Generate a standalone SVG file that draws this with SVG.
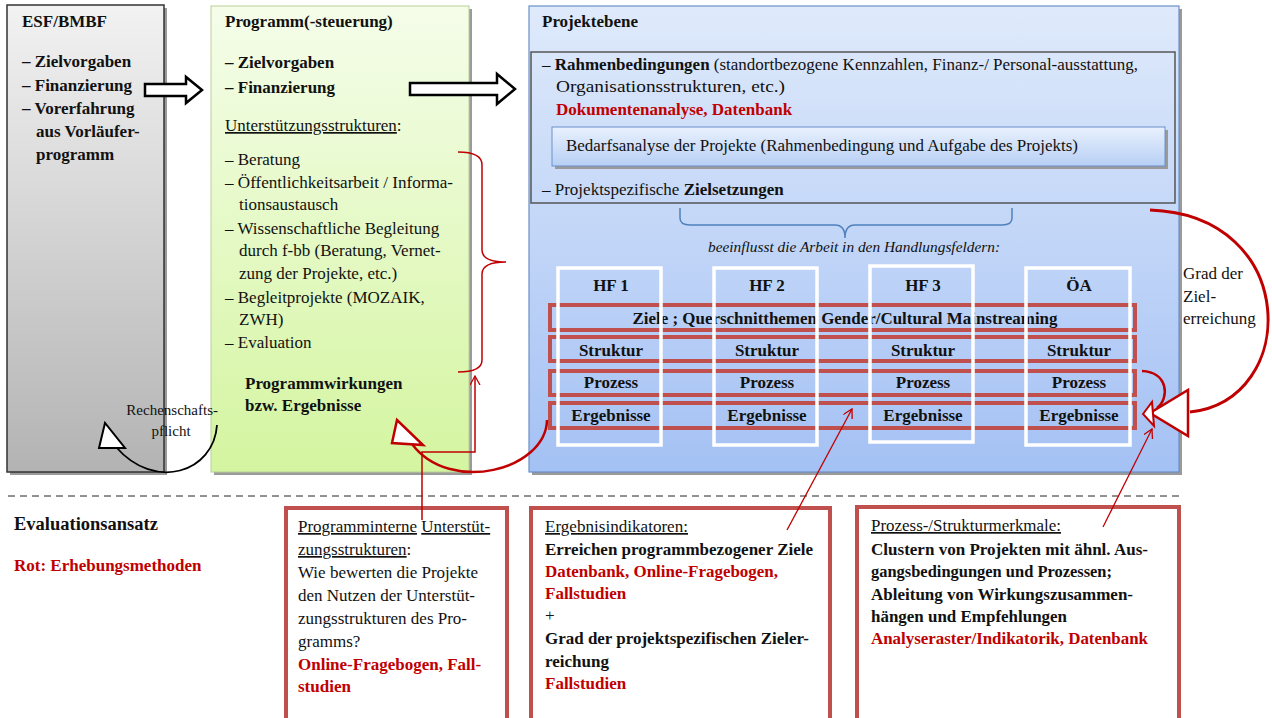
<svg xmlns="http://www.w3.org/2000/svg" width="1272" height="718" viewBox="0 0 1272 718">
<style>
text{font-family:'Liberation Serif','DejaVu Serif',serif;font-size:17px;fill:#111}
.b{font-weight:bold}
.r{fill:#c00000;font-weight:bold}
.u{text-decoration:underline}
.row{fill:none;stroke:#c0504d;stroke-width:4}
.col{fill:none;stroke:#ffffff;stroke-width:3.5}
.red{fill:none;stroke:#c00000}
.shadow{fill:#9a9a9a}
.c{text-anchor:middle}
</style>
<defs>
<linearGradient id="gGray" x1="0" y1="0" x2="0" y2="1"><stop offset="0" stop-color="#f2f2f2"/><stop offset="1" stop-color="#b3b3b3"/></linearGradient>
<linearGradient id="gGreen" x1="0" y1="0" x2="0" y2="1"><stop offset="0" stop-color="#f5fdea"/><stop offset="1" stop-color="#d4f5a0"/></linearGradient>
<linearGradient id="gBlue" x1="0" y1="0" x2="0" y2="1"><stop offset="0" stop-color="#dfeafb"/><stop offset="1" stop-color="#a4c1f4"/></linearGradient>
<linearGradient id="gBox" x1="0" y1="0" x2="0" y2="1"><stop offset="0" stop-color="#e9f1fd"/><stop offset="1" stop-color="#b7cff5"/></linearGradient>
<marker id="ah" markerWidth="12" markerHeight="12" refX="9" refY="5" orient="auto" markerUnits="userSpaceOnUse"><path d="M0,0 L9,5 L0,10" fill="none" stroke="#c00000" stroke-width="1.3"/></marker>
</defs>

<g id="esf">
<rect class="shadow" x="10" y="8" width="157" height="467"/>
<rect x="7" y="5" width="157" height="467" fill="url(#gGray)" stroke="#333" stroke-width="1.5"/>
<text class="b" x="22" y="27">ESF/BMBF</text>
<text class="b" x="22" y="67">– Zielvorgaben</text>
<text class="b" x="22" y="91">– Finanzierung</text>
<text class="b" x="22" y="114">– Vorerfahrung</text>
<text class="b" x="36" y="137">aus Vorläufer-</text>
<text class="b" x="36" y="160">programm</text>
</g>

<g id="programm">
<rect class="shadow" x="214" y="9" width="258" height="466"/>
<rect x="211" y="6" width="258" height="466" fill="url(#gGreen)" stroke="#b9cf98" stroke-width="1"/>
<text class="b" x="225" y="27">Programm(-steuerung)</text>
<text class="b" x="225" y="68">– Zielvorgaben</text>
<text class="b" x="225" y="93">– Finanzierung</text>
<text x="225" y="131"><tspan class="u">Unterstützungsstrukturen</tspan>:</text>
<text x="225" y="165">– Beratung</text>
<text x="225" y="188" textLength="228" lengthAdjust="spacingAndGlyphs">– Öffentlichkeitsarbeit / Informa-</text>
<text x="239" y="210">tionsaustausch</text>
<text x="225" y="234">– Wissenschaftliche Begleitung</text>
<text x="239" y="256">durch f-bb (Beratung, Vernet-</text>
<text x="239" y="279">zung der Projekte, etc.)</text>
<text x="225" y="303">– Begleitprojekte (MOZAIK,</text>
<text x="239" y="325">ZWH)</text>
<text x="225" y="348">– Evaluation</text>
<text class="b" x="245" y="389">Programmwirkungen</text>
<text class="b" x="245" y="411">bzw. Ergebnisse</text>
</g>

<g id="projektebene">
<rect class="shadow" x="532" y="9" width="650" height="466"/>
<rect x="529" y="6" width="650" height="466" fill="url(#gBlue)" stroke="#6a8fc9" stroke-width="1.2"/>
<text class="b" x="542" y="27">Projektebene</text>
<rect x="531" y="52" width="644" height="151" fill="none" stroke="#555" stroke-width="1.5"/>
<text x="542" y="70" textLength="596" lengthAdjust="spacingAndGlyphs">– <tspan class="b">Rahmenbedingungen</tspan> (standortbezogene Kennzahlen, Finanz-/ Personal-ausstattung,</text>
<text x="556" y="92" textLength="229" lengthAdjust="spacingAndGlyphs">Organisationsstrukturen, etc.)</text>
<text class="r" x="556" y="115">Dokumentenanalyse, Datenbank</text>
<g id="bedarf">
<rect class="shadow" x="555" y="130" width="613" height="39"/>
<rect x="552" y="127" width="613" height="39" fill="url(#gBox)" stroke="#6a90cc" stroke-width="1"/>
<text x="566" y="151" textLength="512" lengthAdjust="spacingAndGlyphs">Bedarfsanalyse der Projekte (Rahmenbedingung und Aufgabe des Projekts)</text>
</g>
<text x="542" y="195">– Projektspezifische <tspan class="b">Zielsetzungen</tspan></text>
<path d="M680,208 L680,218 Q680,225 690,225 L835,225 Q845,225 845,238 Q845,225 855,225 L1002,225 Q1012,225 1012,218 L1012,208" fill="none" stroke="#4f81bd" stroke-width="1.5"/>
<text x="854" y="252" class="c" style="font-style:italic;font-size:15px" textLength="292" lengthAdjust="spacingAndGlyphs">beeinflusst die Arbeit in den Handlungsfeldern:</text>
</g>

<g id="rows">
<rect class="row" x="550" y="305" width="585" height="25"/>
<rect class="row" x="550" y="337" width="585" height="24"/>
<rect class="row" x="550" y="371" width="585" height="24"/>
<rect class="row" x="550" y="403" width="585" height="25"/>
<text class="b c" x="845" y="324" textLength="425" lengthAdjust="spacingAndGlyphs">Ziele ; Querschnitthemen Gender/Cultural Mainstreaming</text>
</g>

<g id="hf1">
<text class="b c" x="611" y="291">HF 1</text>
<text class="b c" x="611" y="356">Struktur</text>
<text class="b c" x="611" y="388">Prozess</text>
<text class="b c" x="611" y="421">Ergebnisse</text>
</g>
<g id="hf2">
<text class="b c" x="767" y="291">HF 2</text>
<text class="b c" x="767" y="356">Struktur</text>
<text class="b c" x="767" y="388">Prozess</text>
<text class="b c" x="767" y="421">Ergebnisse</text>
</g>
<g id="hf3">
<text class="b c" x="923" y="291">HF 3</text>
<text class="b c" x="923" y="356">Struktur</text>
<text class="b c" x="923" y="388">Prozess</text>
<text class="b c" x="923" y="421">Ergebnisse</text>
</g>
<g id="oea">
<text class="b c" x="1079" y="291">ÖA</text>
<text class="b c" x="1079" y="356">Struktur</text>
<text class="b c" x="1079" y="388">Prozess</text>
<text class="b c" x="1079" y="421">Ergebnisse</text>
</g>
<g id="columns">
<rect class="col" x="558" y="268" width="103" height="177"/>
<rect class="col" x="714" y="268" width="103" height="177"/>
<rect class="col" x="870" y="266" width="103" height="176"/>
<rect class="col" x="1026" y="268" width="104" height="177"/>
</g>

<g id="labels">
<text x="1183" y="279">Grad der</text>
<text x="1183" y="302">Ziel-</text>
<text x="1183" y="324">erreichung</text>
<text x="218" y="415" text-anchor="end" style="font-size:15px">Rechenschafts-</text>
<text x="171" y="436" class="c" style="font-size:15px">pflicht</text>
<text class="b" x="14" y="530" style="font-size:18.5px">Evaluationsansatz</text>
<text class="r" x="14" y="571">Rot: Erhebungsmethoden</text>
</g>

<line x1="8" y1="496" x2="1180" y2="496" stroke="#222" stroke-width="1" stroke-dasharray="7,5"/>

<g id="box-programminterne">
<rect x="286" y="508" width="221" height="215" fill="#fff" stroke="#c0504d" stroke-width="4"/>
<text x="298" y="532"><tspan class="u">Programminterne</tspan> <tspan class="u">Unterstüt-</tspan></text>
<text x="298" y="555"><tspan class="u">zungsstrukturen</tspan>:</text>
<text x="298" y="578">Wie bewerten die Projekte</text>
<text x="298" y="601">den Nutzen der Unterstüt-</text>
<text x="298" y="624">zungsstrukturen des Pro-</text>
<text x="298" y="647">gramms?</text>
<text class="r" x="298" y="670">Online-Fragebogen, Fall-</text>
<text class="r" x="298" y="692">studien</text>
</g>

<g id="box-ergebnis">
<rect x="531" y="508" width="299" height="215" fill="#fff" stroke="#c0504d" stroke-width="4"/>
<text x="545" y="532" class="u" textLength="143" lengthAdjust="spacingAndGlyphs">Ergebnisindikatoren:</text>
<text class="b" x="545" y="555" textLength="268" lengthAdjust="spacingAndGlyphs">Erreichen programmbezogener Ziele</text>
<text class="r" x="545" y="577" textLength="233" lengthAdjust="spacingAndGlyphs">Datenbank, Online-Fragebogen,</text>
<text class="r" x="545" y="599">Fallstudien</text>
<text x="545" y="621">+</text>
<text class="b" x="545" y="644" textLength="264" lengthAdjust="spacingAndGlyphs">Grad der projektspezifischen Zieler-</text>
<text class="b" x="545" y="667">reichung</text>
<text class="r" x="545" y="689">Fallstudien</text>
</g>

<g id="box-prozess">
<rect x="857" y="507" width="322" height="216" fill="#fff" stroke="#c0504d" stroke-width="4"/>
<text x="871" y="531" class="u" textLength="190" lengthAdjust="spacingAndGlyphs">Prozess-/Strukturmerkmale:</text>
<text class="b" x="871" y="555" textLength="277" lengthAdjust="spacingAndGlyphs">Clustern von Projekten mit ähnl. Aus-</text>
<text class="b" x="871" y="577" textLength="241" lengthAdjust="spacingAndGlyphs">gangsbedingungen und Prozessen;</text>
<text class="b" x="871" y="600" textLength="262" lengthAdjust="spacingAndGlyphs">Ableitung von Wirkungszusammen-</text>
<text class="b" x="871" y="622" textLength="196" lengthAdjust="spacingAndGlyphs">hängen und Empfehlungen</text>
<text class="r" x="871" y="644" textLength="277" lengthAdjust="spacingAndGlyphs">Analyseraster/Indikatorik, Datenbank</text>
</g>

<g id="connectors">
<polygon points="145,84 186,84 186,77 202,90 186,103 186,96 145,96" fill="#fff" stroke="#000" stroke-width="2.5" stroke-linejoin="miter"/>
<polygon points="410,83 497,83 497,74 515,89 497,104 497,95 410,95" fill="#fff" stroke="#000" stroke-width="2.5" stroke-linejoin="miter"/>
<path d="M458,152 Q482,152 482,165 L482,250 Q482,262 506,262 Q482,262 482,274 L482,360 Q482,372 458,372" fill="none" stroke="#c00000" stroke-width="1.5"/>
<polyline points="422,520 422,452 475,452 475,376" class="red" stroke-width="1.5" marker-end="url(#ah)"/>
<path d="M547,420 C546,470 450,495 412,444" class="red" stroke-width="2.5"/>
<polygon points="397,420 392,443 423,445" fill="#fff" stroke="#c00000" stroke-width="2.5"/>
<path d="M217,425 C214,472 155,492 116,447" fill="none" stroke="#000" stroke-width="1.8"/>
<polygon points="105,423 99,448 125,448" fill="#fff" stroke="#000" stroke-width="2"/>
<line x1="787" y1="530" x2="852" y2="409" class="red" stroke-width="1.3" marker-end="url(#ah)"/>
<line x1="1103" y1="527" x2="1152" y2="429" class="red" stroke-width="1.3" marker-end="url(#ah)"/>
<path d="M1150,210 C1300,215 1300,400 1190,412" class="red" stroke-width="3"/>
<polygon points="1150,413 1188,390 1188,436" fill="#fff" stroke="#c00000" stroke-width="2.5"/>
<path d="M1142,371 C1168,372 1170,398 1157,408" class="red" stroke-width="2.5"/>
<polygon points="1143,414 1152,402 1154,426" fill="#fff" stroke="#c00000" stroke-width="2"/>
</g>
</svg>
